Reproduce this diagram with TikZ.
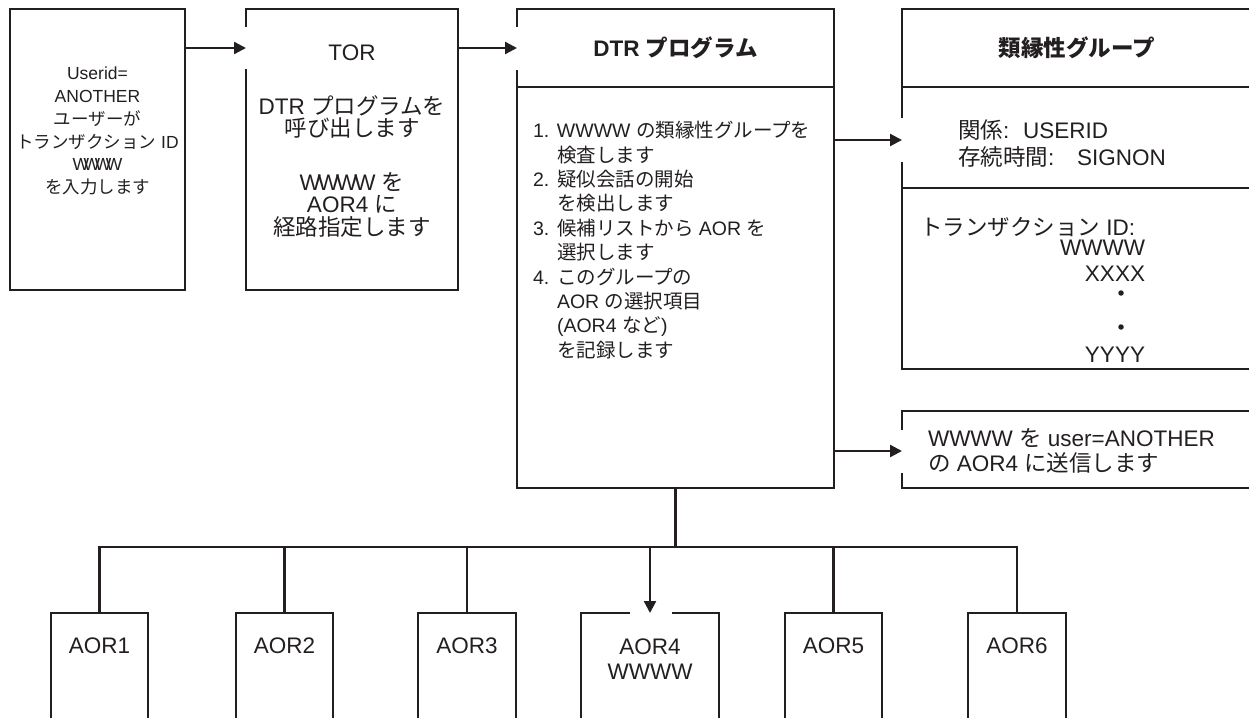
\documentclass[tikz,border=0pt]{standalone}
\usepackage{fontspec}
\setmainfont{Liberation Sans}
\newfontfamily\jp{Noto Sans CJK JP}
\newcommand{\J}[1]{{\jp #1}}
\newcommand{\Wk}[1]{W\kern#1W\kern#1W\kern#1W}
\usetikzlibrary{arrows.meta}
\definecolor{ink}{HTML}{231F20}
\begin{document}
\begin{tikzpicture}[x=1pt,y=-1pt,color=ink,
  ln/.style={line width=2.4pt},
  arr/.style={ln,-{Triangle[length=12pt,width=12pt]}},
  frame/.style={inner sep=0pt,outer sep=0pt},
  txt/.style={inner sep=0pt,outer sep=0pt,align=center},
  tU/.style={txt,font=\fontsize{17.5}{22.8}\selectfont},
  tA/.style={txt,font=\fontsize{22.5}{22.5}\selectfont},
  tB/.style={txt,font=\fontsize{22.5}{22.5}\selectfont\bfseries},
  tL/.style={txt,align=left,font=\fontsize{19.5}{24.4}\selectfont},
  tF/.style={txt,align=left,font=\fontsize{22.5}{27}\selectfont},
  tS/.style={txt,align=left,font=\fontsize{22.5}{25}\selectfont},
  tAOR/.style={txt,font=\fontsize{22.5}{25.7}\selectfont},
  dotmark/.style={circle,fill=ink,draw=none,inner sep=0pt,minimum size=5.5pt}
]
\useasboundingbox (0,0) rectangle (1249,717);

% box frames (invisible, named)
\node[frame,minimum width=175pt,minimum height=281pt] (user) at (97.5,149.5) {};
\node[frame,minimum width=212pt,minimum height=281pt] (tor)  at (352,149.5) {};
\node[frame,minimum width=317pt,minimum height=479pt] (dtr)  at (675.5,248.5) {};
\node[frame,minimum width=358pt,minimum height=360pt] (aff)  at (1081,189) {};
\node[frame,minimum width=358pt,minimum height=77pt]  (send) at (1081,449.5) {};
\node[frame,minimum width=97pt,minimum height=112pt]  (aor1) at (99.5,669) {};
\node[frame,minimum width=97pt,minimum height=112pt]  (aor2) at (284.5,669) {};
\node[frame,minimum width=98pt,minimum height=112pt]  (aor3) at (467,669) {};
\node[frame,minimum width=138pt,minimum height=112pt] (aor4) at (650,669) {};
\node[frame,minimum width=97pt,minimum height=112pt]  (aor5) at (833.5,669) {};
\node[frame,minimum width=98pt,minimum height=112pt]  (aor6) at (1017,669) {};

% connector end points
\coordinate (torin)  at (246,48);
\coordinate (dtrin)  at (517,48);
\coordinate (affin)  at (902,140);
\coordinate (sendin) at (902,451);
\coordinate (aor4in) at (650,613);
\coordinate (bus)    at (675.5,547);

% outlines
\draw[ln] (user.north west) rectangle (user.south east);
\draw[ln] ([yshift=-21pt]torin) -- (tor.south west) -- (tor.south east) -- (tor.north east) -- (tor.north west) -- ([yshift=21pt]torin);
\draw[ln] ([yshift=-22pt]dtrin) -- (dtr.south west) -- (dtr.south east) -- (dtr.north east) -- (dtr.north west) -- ([yshift=21pt]dtrin);
\draw[ln] (517,87) -- (834,87);
\draw[ln] ([yshift=-22pt]affin) -- (aff.south west) -- (aff.south east);
\draw[ln] ([yshift=22pt]affin) -- (aff.north west) -- (aff.north east);
\draw[ln] (902,87) -- (1260,87);
\draw[ln] (902,188) -- (1260,188);
\draw[ln] ([yshift=-22pt]sendin) -- (send.south west) -- (send.south east);
\draw[ln] ([yshift=21pt]sendin) -- (send.north west) -- (send.north east);
\foreach \a in {aor1,aor2,aor3,aor5,aor6}
  \draw[ln] (\a.south west) -- (\a.north west) -- (\a.north east) -- (\a.south east);
\draw[ln] ([xshift=-20pt]aor4in) -- (aor4.north west) -- (aor4.south west);
\draw[ln] ([xshift=22pt]aor4in) -- (aor4.north east) -- (aor4.south east);

% connectors
\draw[arr] (user.east |- torin) -- (torin);
\draw[arr] (tor.east |- dtrin) -- (dtrin);
\draw[arr] (dtr.east |- affin) -- (affin);
\draw[arr] (dtr.east |- sendin) -- (sendin);
\draw[ln] (dtr.south) -- (bus);
\draw[ln] (aor1.north) -- (aor1.north |- bus) -- (aor6.north |- bus) -- (aor6.north);
\draw[ln] (aor2.north |- bus) -- (aor2.north);
\draw[ln] (aor3.north |- bus) -- (aor3.north);
\draw[ln] (aor5.north |- bus) -- (aor5.north);
\draw[arr] (aor4.north |- bus) -- (aor4in);

% texts
\node[tU] (usertxt) at (97.5,131) {Userid=\\ANOTHER\\\J{ユーザーが}\\\J{トランザクション} ID\\\Wk{-5.5pt}\\\J{を入力します}};
\node[tA] (tortitle) at (352,53) {TOR};
\node[tA] (tortxt1) at (352,117) {DTR \J{プログラムを}\\\J{呼び出します}};
\node[tA] (tortxt2) at (352,204.5) {\Wk{-3pt} \J{を}\\AOR4 \J{に}\\\J{経路指定します}};

\node[tB] (dtrtitle) at (675.5,48) {DTR \J{プログラム}};
\node[tL,anchor=west] (dtrlist) at (533,240) {%
\makebox[24pt][l]{1.}WWWW \J{の類縁性グループを}\\
\hspace*{24pt}\J{検査します}\\
\makebox[24pt][l]{2.}\J{疑似会話の開始}\\
\hspace*{24pt}\J{を検出します}\\
\makebox[24pt][l]{3.}\J{候補リストから} AOR \J{を}\\
\hspace*{24pt}\J{選択します}\\
\makebox[24pt][l]{4.}\J{このグループの}\\
\hspace*{24pt}AOR \J{の選択項目}\\
\hspace*{24pt}(AOR4 \J{など})\\
\hspace*{24pt}\J{を記録します}};

\node[tB] (afftitle) at (1077,48) {\J{類縁性グループ}};
\node[tF,anchor=west] (affattr) at (958,143.5) {\makebox[65pt][l]{\J{関係}:}USERID\\\makebox[119pt][l]{\J{存続時間}:}SIGNON};
\node[tF,anchor=west] (afftx) at (920,227) {\J{トランザクション} ID:};
\node[tF,anchor=east] (tw) at (1145,248) {WWWW};
\node[tF,anchor=east] (tx) at (1145,274) {XXXX};
\node[dotmark] (dot1) at (1121,293) {};
\node[dotmark] (dot2) at (1121,327) {};
\node[tF,anchor=east] (ty) at (1145,355) {YYYY};

\node[tS,anchor=west] (sendtxt) at (928,450.5) {WWWW \J{を} user=ANOTHER\\\J{の} AOR4 \J{に送信します}};

\node[tA] (l1) at (99.5,646) {AOR1};
\node[tA] (l2) at (284.5,646) {AOR2};
\node[tA] (l3) at (467,646) {AOR3};
\node[tAOR] (l4) at (650,659) {AOR4\\WWWW};
\node[tA] (l5) at (833.5,646) {AOR5};
\node[tA] (l6) at (1017,646) {AOR6};
\end{tikzpicture}
\end{document}
